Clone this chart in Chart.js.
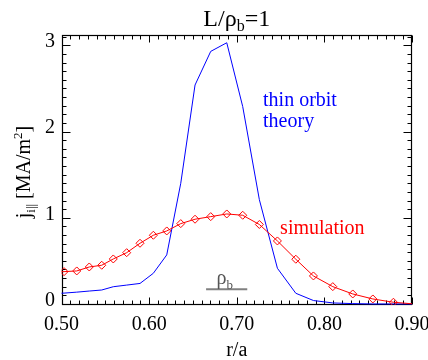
<!DOCTYPE html>
<html>
<head>
<meta charset="utf-8">
<script src="https://cdn.jsdelivr.net/npm/chart.js@4.4.1/dist/chart.umd.min.js"></script>
<style>
  html, body { margin: 0; padding: 0; background: #fff; }
</style>
</head>
<body>
<canvas id="chart" width="428" height="360"></canvas>
<script>
// r/a grid shared by both curves (first and last points sit just outside the plotted range)
const rGrid = [0.4885, 0.5029, 0.5174, 0.5317, 0.5459, 0.5591, 0.5744, 0.5896, 0.6048, 0.6201,
  0.6361, 0.6524, 0.6703, 0.6886, 0.7068, 0.7258, 0.7464, 0.7674, 0.7875, 0.8096,
  0.8324, 0.8553, 0.8788, 0.9025];
// j_i|| [MA/m^2], thin orbit theory (blue)
const theory = [0.120, 0.126, 0.137, 0.150, 0.162, 0.200, 0.219, 0.238, 0.356, 0.569,
  1.40, 2.54, 2.93, 3.03, 2.29, 1.21, 0.414, 0.124, 0.040, 0.012,
  0.004, 0.0, 0.0, 0.0];
// j_i|| [MA/m^2], simulation (red diamonds)
const simulation = [0.370, 0.375, 0.383, 0.429, 0.449, 0.522, 0.595, 0.704, 0.797, 0.847,
  0.932, 0.983, 1.013, 1.044, 1.029, 0.922, 0.731, 0.519, 0.325, 0.201,
  0.116, 0.058, 0.020, 0.0];
const xTicks = [0.5, 0.6, 0.7, 0.8, 0.9];
const yTicks = [0, 1, 2, 3];
// rho_b scale bar (in r/a) and its height
const rhoBarEnds = [0.665, 0.712];
const rhoBarLevel = 0.17;

const SERIF = "'Liberation Serif', 'Times New Roman', serif";
const xMin = 0.5, xMax = 0.9;

const pts = (ys) => rGrid.map((r, i) => ({ x: r, y: ys[i] }));

// frame with inward ticks on all four sides, drawn under the data
const frameTicks = {
  id: 'frameTicks',
  beforeDatasetsDraw(chart) {
    const { ctx, chartArea: a, scales: { x, y } } = chart;
    const L = Math.round(a.left) + 0.5, R = Math.round(a.right) - 0.5;
    const T = Math.round(a.top) + 0.5, B = Math.round(a.bottom) - 0.5;
    ctx.save();
    ctx.strokeStyle = '#000';
    ctx.lineWidth = 1.2;
    ctx.strokeRect(L, T, R - L, B - T);
    ctx.lineWidth = 1;
    ctx.beginPath();
    for (let i = 50; i <= 90; i++) {
      const px = Math.round(x.getPixelForValue(i / 100)) + 0.5;
      const len = i % 10 === 0 ? 7 : 4;
      ctx.moveTo(px, B); ctx.lineTo(px, B - len);
      ctx.moveTo(px, T); ctx.lineTo(px, T + len);
    }
    for (let i = 0; i <= 31; i++) {
      const py = Math.round(y.getPixelForValue(i / 10)) + 0.5;
      const len = i % 10 === 0 ? 8 : 4;
      ctx.moveTo(L, py); ctx.lineTo(L + len, py);
      ctx.moveTo(R, py); ctx.lineTo(R - len, py);
    }
    ctx.stroke();
    ctx.restore();
  }
};

// draw text runs with sub/superscripts; parts: [text, size, shift]
function runWidth(ctx, parts) {
  let w = 0;
  for (const [t, s] of parts) { ctx.font = s + 'px ' + SERIF; w += ctx.measureText(t).width; }
  return w;
}
function drawRun(ctx, parts, x0, y0) {
  let x = x0;
  for (const [t, s, dy] of parts) {
    ctx.font = s + 'px ' + SERIF;
    ctx.fillText(t, x, y0 + (dy || 0));
    x += ctx.measureText(t).width;
  }
}

const labels = {
  id: 'labels',
  afterDraw(chart) {
    const { ctx, chartArea: a, scales: { x, y } } = chart;
    ctx.save();
    ctx.textBaseline = 'alphabetic';
    ctx.textAlign = 'left';
    ctx.fillStyle = '#000';

    // main title
    const title = [['L/ρ', 24], ['b', 16, 5], ['=1', 24]];
    const cx = (a.left + a.right) / 2;
    drawRun(ctx, title, cx - runWidth(ctx, title) / 2, 26);

    // x title
    ctx.font = '20px ' + SERIF;
    ctx.textAlign = 'center';
    ctx.fillText('r/a', cx, 356);
    ctx.textAlign = 'left';

    // y title, rotated
    const yt = [['j', 20], ['i||', 13, 5], [' [MA/m', 20], ['2', 13, -8], [']', 20]];
    ctx.save();
    ctx.translate(30, (a.top + a.bottom) / 2 + 2);
    ctx.rotate(-Math.PI / 2);
    drawRun(ctx, yt, -runWidth(ctx, yt) / 2, 0);
    ctx.restore();

    // curve labels
    ctx.fillStyle = '#0000ff';
    ctx.font = '20px ' + SERIF;
    ctx.fillText('thin orbit', x.getPixelForValue(0.730), y.getPixelForValue(2.297));
    ctx.fillText('theory', x.getPixelForValue(0.730), y.getPixelForValue(2.053));
    ctx.fillStyle = '#ff0000';
    ctx.fillText('simulation', x.getPixelForValue(0.7495), y.getPixelForValue(0.812));

    // rho_b label over the scale bar
    ctx.fillStyle = '#555';
    drawRun(ctx, [['ρ', 20], ['b', 13, 5]], x.getPixelForValue(0.677), y.getPixelForValue(0.232));
    ctx.restore();
  }
};

new Chart(document.getElementById('chart'), {
  type: 'line',
  data: {
    datasets: [
      {
        label: 'simulation',
        data: pts(simulation),
        borderColor: 'rgb(255, 0, 0)',
        backgroundColor: 'rgb(255, 0, 0)',
        borderWidth: 1,
        pointStyle: 'rectRot',
        pointRadius: (c) => {
          const r = rGrid[c.dataIndex];
          return r >= xMin && r <= xMax ? 4 : 0;
        },
        pointBorderColor: 'rgb(255, 0, 0)',
        pointBackgroundColor: 'rgba(255, 255, 255, 0)',
        pointBorderWidth: 1,
        tension: 0,
        order: 1
      },
      {
        label: 'thin orbit theory',
        data: pts(theory),
        borderColor: 'rgb(0, 0, 255)',
        backgroundColor: 'rgb(0, 0, 255)',
        borderWidth: 1,
        pointRadius: 0,
        tension: 0,
        order: 2
      },
      {
        label: 'rho_b',
        data: rhoBarEnds.map(r => ({ x: r, y: rhoBarLevel })),
        borderColor: '#808080',
        borderWidth: 2,
        pointRadius: 0,
        order: 3
      }
    ]
  },
  options: {
    responsive: false,
    animation: false,
    layout: { padding: { top: 35, right: 16, left: 0, bottom: 0 } },
    plugins: { legend: { display: false }, tooltip: { enabled: false } },
    scales: {
      x: {
        type: 'linear',
        min: xMin,
        max: xMax,
        afterBuildTicks: (s) => { s.ticks = xTicks.map(v => ({ value: v })); },
        afterFit: (s) => { s.height = 55; s.paddingLeft = 0; s.paddingRight = 0; },
        grid: { display: false, drawTicks: false },
        border: { display: false },
        ticks: {
          color: '#000',
          font: { family: SERIF, size: 20 },
          padding: 8,
          maxRotation: 0,
          autoSkip: false,
          callback: (v) => Number(v).toFixed(2)
        }
      },
      y: {
        min: -0.012,
        max: 3.12,
        afterBuildTicks: (s) => { s.ticks = yTicks.map(v => ({ value: v })); },
        afterFit: (s) => { s.width = 61.5; },
        grid: { display: false, drawTicks: false },
        border: { display: false },
        ticks: {
          color: '#000',
          font: { family: SERIF, size: 20 },
          padding: 6.5,
          labelOffset: -3.5,
          callback: (v) => String(v)
        }
      }
    }
  },
  plugins: [frameTicks, labels]
});
</script>
</body>
</html>
